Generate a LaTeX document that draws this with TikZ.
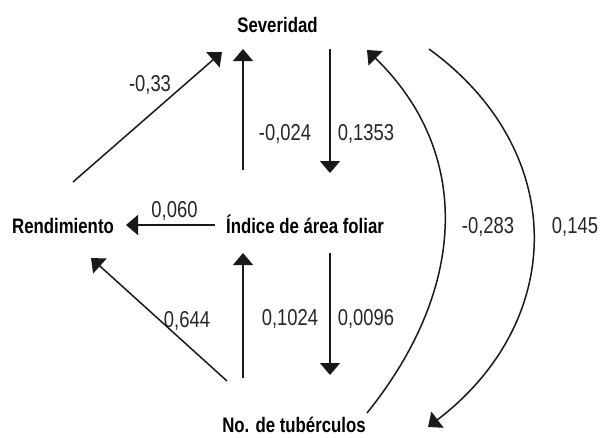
\documentclass[tikz,border=0pt]{standalone}
\usepackage{fontspec}
\setmainfont{Liberation Sans}[FakeStretch=0.8]
\usetikzlibrary{arrows.meta}
\tikzset{
  var/.style={font=\fontsize{21}{21}\selectfont\bfseries, inner sep=0pt, anchor=base},
  coef/.style={font=\fontsize{23}{23}\selectfont, inner sep=0pt, anchor=base, text=black!85},
  arr/.style={line width=1.5pt, draw=black!90, -{Triangle[width=20pt,length=12pt]}},
}
\begin{document}
\begin{tikzpicture}[x=1pt,y=-1pt]
\useasboundingbox (0,0) rectangle (602,437);
% variables
\node[var] (sev) at (277.5,32) {Severidad};
\node[var] (ren) at (63,233) {Rendimiento};
\node[var] (iaf) at (305,233) {Índice de área foliar};
\node[var] (tub) at (294,432) {No. de tubérculos};
% arrow end points
\coordinate (a1s) at (73,182);   \coordinate (a1e) at (222,52);
\coordinate (a2s) at (243,170);  \coordinate (a2e) at (243,49);
\coordinate (a3s) at (330,49);   \coordinate (a3e) at (330,173);
\coordinate (a4s) at (215,225);  \coordinate (a4e) at (126,225);
\coordinate (a5s) at (227,381);  \coordinate (a5e) at (91,258);
\coordinate (a6s) at (243,378);  \coordinate (a6e) at (243,253);
\coordinate (a7s) at (330,253);  \coordinate (a7e) at (330,375);
\coordinate (c1s) at (367,413);  \coordinate (c1e) at (367,50);
\coordinate (c2s) at (429,49);   \coordinate (c2e) at (428,427);
% connectors
\draw[arr] (a1s) -- (a1e);
\draw[arr] (a2s) -- (a2e);
\draw[arr] (a3s) -- (a3e);
\draw[arr] (a4s) -- (a4e);
\draw[arr] (a5s) -- (a5e);
\draw[arr] (a6s) -- (a6e);
\draw[arr] (a7s) -- (a7e);
\draw[arr] (c1s) .. controls (470,285) and (470,150) .. (c1e);
\draw[arr] (c2s) .. controls (568,150) and (568,320) .. (c2e);
% coefficients
\node[coef] (k1) at (150,91) {-0,33};
\node[coef] (k2) at (285,140) {-0,024};
\node[coef] (k3) at (366,140) {0,1353};
\node[coef] (k4) at (174.5,217) {0,060};
\node[coef] (k5) at (187,327) {0,644};
\node[coef] (k6) at (290,325) {0,1024};
\node[coef] (k7) at (366,325) {0,0096};
\node[coef] (k8) at (488,233) {-0,283};
\node[coef] (k9) at (575,233) {0,145};
\end{tikzpicture}
\end{document}
